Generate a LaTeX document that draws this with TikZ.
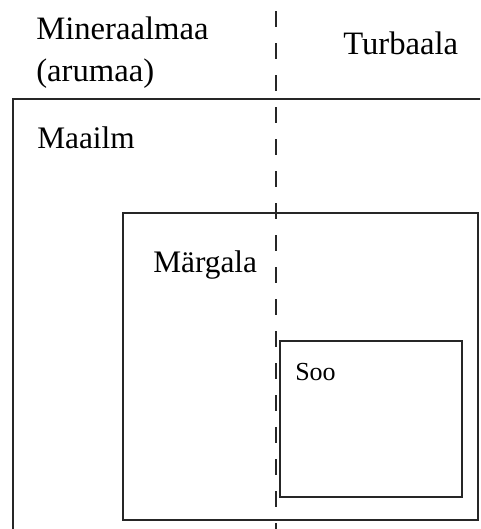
\documentclass[tikz,border=0pt]{standalone}
\usepackage{fontspec}
\setmainfont{Liberation Serif}
\usetikzlibrary{positioning}

\tikzset{
	region/.style={draw=black!85, line width=1.8pt},
	divider/.style={draw=black!85, line width=1.8pt, dash pattern=on 12pt off 12pt},
	bigtext/.style={inner sep=0pt, anchor=base west, align=left, font=\fontsize{24.5}{31.5}\selectfont},
	areatext/.style={inner sep=0pt, anchor=base west, font=\fontsize{23.5}{28}\selectfont},
	smalltext/.style={inner sep=0pt, anchor=base west, font=\fontsize{19.5}{23}\selectfont}
}

\begin{document}
\begin{tikzpicture}[x=0.75pt,y=-0.75pt]
	\clip (0,0) rectangle (480,529);
	\fill[white] (0,0) rectangle (480,529);

	% corners of the regions
	\coordinate (world_nw) at (13,99);
	\coordinate (world_se) at (500,550);
	\coordinate (marsh_nw) at (123,213);
	\coordinate (marsh_se) at (478,520);
	\coordinate (bog_nw) at (280,341);
	\coordinate (bog_se) at (462,497);
	\coordinate (div_top) at (276,11);
	\coordinate (div_bottom) at (276,540);

	\draw[region] (world_nw) rectangle (world_se);
	\draw[region] (marsh_nw) rectangle (marsh_se);
	\draw[region] (bog_nw) rectangle (bog_se);
	\draw[divider] (div_top) -- (div_bottom);

	% base anchor of a two-line node sits on its last line
	\node[bigtext] (mineral) at (36,81) {Mineraalmaa\\(arumaa)};
	\node[bigtext] (peat) at (343,54) {Turbaala};
	\node[areatext] (world) at (37,148) {Maailm};
	\node[areatext] (marsh) at (153,272) {Märgala};
	\node[smalltext] (bog) at (295,380) {Soo};
\end{tikzpicture}
\end{document}
